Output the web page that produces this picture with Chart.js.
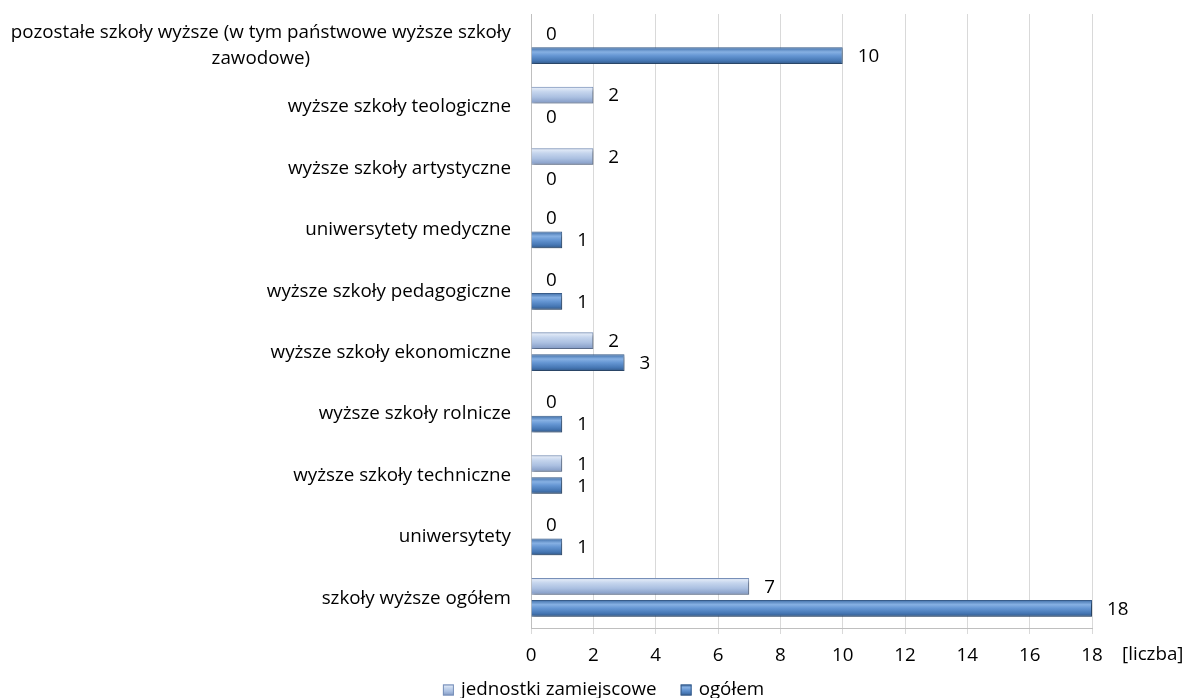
<!DOCTYPE html>
<html><head><meta charset="utf-8">
<script src="https://cdn.jsdelivr.net/npm/chart.js@4.4.1/dist/chart.umd.min.js"></script>
<style>html,body{margin:0;padding:0;background:#fff}#wrap{width:1183px;height:698px;position:relative}</style>
</head><body><div id="wrap"><canvas id="c"></canvas></div>
<script>
// ---- data ----
const categories = [
  ["pozostałe szkoły wyższe (w tym państwowe wyższe szkoły", "zawodowe)"],
  "wyższe szkoły teologiczne",
  "wyższe szkoły artystyczne",
  "uniwersytety medyczne",
  "wyższe szkoły pedagogiczne",
  "wyższe szkoły ekonomiczne",
  "wyższe szkoły rolnicze",
  "wyższe szkoły techniczne",
  "uniwersytety",
  "szkoły wyższe ogółem"
];
const jednostkiZamiejscowe = [0, 2, 2, 0, 0, 2, 0, 1, 0, 7];
const ogolem = [10, 0, 0, 1, 1, 3, 1, 1, 1, 18];
const xMin = 0, xMax = 18, xStep = 2;
const seriesNames = ["jednostki zamiejscowe", "ogółem"];
const axisUnit = "[liczba]";

// ---- style ----
const FONT = "'Open Sans', 'Liberation Sans', sans-serif";
const FSIZE = 18.8;
const styles = [
  { solid: '#b4c7e3', border: '#7890b9',
    stops: [[0, '#93aad2'], [0.1, '#dfe8f6'], [0.3, '#c5d5ed'], [0.62, '#abc0e1'], [1, '#8098c3']] },
  { solid: '#4f81bd', border: '#385d8a',
    stops: [[0, '#3d6ca6'], [0.28, '#86b0e3'], [0.5, '#6596d3'], [0.8, '#4677b4'], [1, '#325887']] }
];

const gradPlugin = {
  id: 'gradShadow',
  beforeDatasetsDraw(chart) {
    const ctx = chart.ctx;
    chart.data.datasets.forEach((ds, di) => {
      const meta = chart.getDatasetMeta(di);
      meta.data.forEach(el => {
        const top = el.y - el.height / 2, bot = el.y + el.height / 2;
        const g = ctx.createLinearGradient(0, top, 0, bot);
        styles[di].stops.forEach(s => g.addColorStop(s[0], s[1]));
        el.options.backgroundColor = g;
      });
    });
    ctx.save();
    ctx.shadowColor = 'rgba(0,0,0,0.35)';
    ctx.shadowBlur = 3;
    ctx.shadowOffsetX = 1.5;
    ctx.shadowOffsetY = 2;
  },
  afterDatasetsDraw(chart) {
    const ctx = chart.ctx;
    ctx.restore();
    ctx.save();
    ctx.font = FSIZE + 'px ' + FONT;
    ctx.fillStyle = '#000';
    ctx.textAlign = 'left';
    ctx.textBaseline = 'middle';
    chart.data.datasets.forEach((ds, di) => {
      const meta = chart.getDatasetMeta(di);
      meta.data.forEach((el, i) => {
        ctx.fillText(String(ds.data[i]), el.x + 15, el.y + 1);
      });
    });
    // y category labels
    const ys = chart.scales.y;
    const right = ys.right - 20;
    categories.forEach((lab, i) => {
      const y = ys.getPixelForTick(i);
      if (Array.isArray(lab)) {
        const w = Math.max(...lab.map(l => ctx.measureText(l).width));
        const cx = right - w / 2;
        ctx.textAlign = 'center';
        const lh = 26;
        lab.forEach((l, k) => ctx.fillText(l, cx, y + 1 + (k - (lab.length - 1) / 2) * lh));
      } else {
        ctx.textAlign = 'right';
        ctx.fillText(lab, right, y + 1);
      }
    });
    // unit label
    const xs = chart.scales.x;
    ctx.textAlign = 'left';
    ctx.fillText(axisUnit, xs.right + 30, xs.top + 27);
    // legend
    const ly = 690, box = 11, gapBox = 7, gapItem = 24;
    const widths = seriesNames.map(n => ctx.measureText(n).width);
    const total = widths.reduce((a, w) => a + box + gapBox + w, 0) + gapItem * (seriesNames.length - 1);
    let lx = chart.width / 2 - total / 2 + 12;
    seriesNames.forEach((n, k) => {
      const g = ctx.createLinearGradient(lx, ly - box / 2, lx, ly + box / 2);
      styles[k].stops.forEach(s => g.addColorStop(s[0], s[1]));
      ctx.fillStyle = g;
      ctx.fillRect(lx, ly - box / 2, box, box);
      ctx.strokeStyle = styles[k].border;
      ctx.lineWidth = 1;
      ctx.strokeRect(lx + 0.5, ly - box / 2 + 0.5, box - 1, box - 1);
      ctx.fillStyle = '#000';
      ctx.textAlign = 'left';
      ctx.fillText(n, lx + box + gapBox, ly);
      lx += box + gapBox + widths[k] + gapItem;
    });
    ctx.restore();
  }
};

new Chart(document.getElementById('c'), {
  type: 'bar',
  data: {
    labels: categories,
    datasets: [
      { label: seriesNames[0], data: jednostkiZamiejscowe,
        backgroundColor: () => styles[0].solid, borderColor: styles[0].border, borderWidth: 1,
        categoryPercentage: 0.716, barPercentage: 0.76 },
      { label: seriesNames[1], data: ogolem,
        backgroundColor: () => styles[1].solid, borderColor: styles[1].border, borderWidth: 1,
        categoryPercentage: 0.716, barPercentage: 0.76 }
    ]
  },
  options: {
    indexAxis: 'y',
    responsive: true,
    maintainAspectRatio: false,
    animation: false,
    devicePixelRatio: 1,
    layout: { padding: { top: 14, right: 91, left: 0, bottom: 30 } },
    plugins: { legend: { display: false }, tooltip: { enabled: false } },
    scales: {
      x: {
        min: xMin, max: xMax,
        ticks: { stepSize: xStep, color: '#000', font: { family: FONT, size: FSIZE }, padding: 10, maxRotation: 0 },
        grid: { color: '#d9d9d9', lineWidth: 1, tickLength: 6, tickColor: '#d9d9d9' },
        border: { display: true, color: '#bfbfbf' },
        afterFit(s) { s.height = 40; }
      },
      y: {
        ticks: { display: false },
        grid: { display: false },
        border: { display: true, color: '#bfbfbf' },
        afterFit(s) { s.width = 531; }
      }
    }
  },
  plugins: [gradPlugin]
});
</script>
</body></html>
